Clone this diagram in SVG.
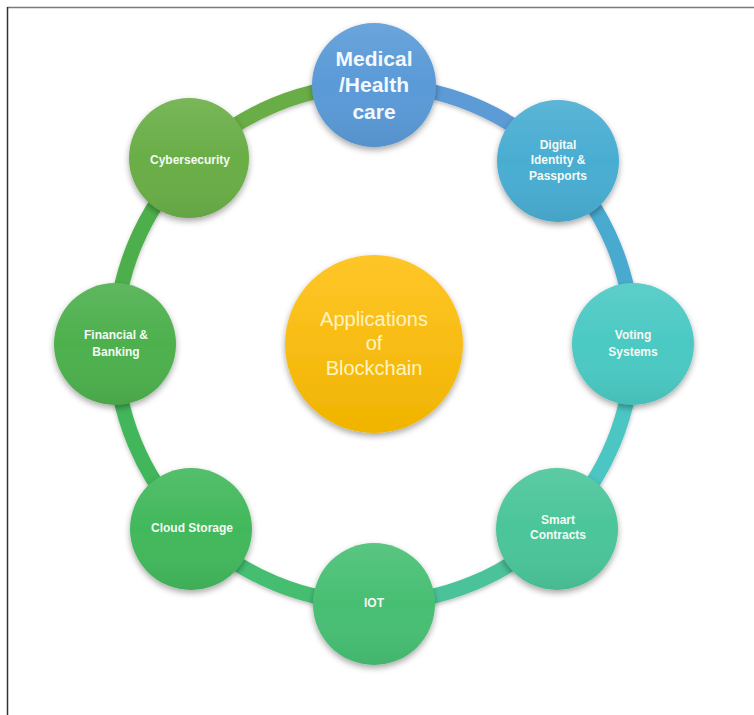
<svg xmlns="http://www.w3.org/2000/svg" width="754" height="715" viewBox="0 0 754 715">
<style>
.node-label{font-family:"Liberation Sans",Arial,sans-serif;font-weight:bold;font-size:12px;fill:#f4faf4;text-anchor:middle}
.big-label{font-family:"Liberation Sans",Arial,sans-serif;font-weight:bold;font-size:21px;fill:#f4f8ff;text-anchor:middle}
.center-label{font-family:"Liberation Sans",Arial,sans-serif;font-size:20px;fill:#fff3c4;text-anchor:middle}
.ring{fill:none;stroke-width:15;stroke-linecap:butt}
.shade{fill:url(#shade)}
</style>
<defs>
<filter id="sh" x="-30%" y="-30%" width="160%" height="170%">
<feDropShadow dx="0" dy="3" stdDeviation="3" flood-color="#000" flood-opacity="0.35"/>
</filter>
<filter id="shr" x="-10%" y="-10%" width="120%" height="120%">
<feDropShadow dx="0" dy="2" stdDeviation="2" flood-color="#000" flood-opacity="0.25"/>
</filter>
<linearGradient id="shade" x1="0" y1="0" x2="0" y2="1">
<stop offset="0" stop-color="#fff" stop-opacity="0.10"/>
<stop offset="0.5" stop-color="#fff" stop-opacity="0"/>
<stop offset="1" stop-color="#000" stop-opacity="0.06"/>
</linearGradient>
<linearGradient id="gold" x1="0" y1="0" x2="0" y2="1">
<stop offset="0" stop-color="#ffc629"/>
<stop offset="1" stop-color="#f0b400"/>
</linearGradient>
</defs>

<line x1="7" y1="7.5" x2="754" y2="7.5" stroke="#7a7a7a" stroke-width="1.5"/>
<line x1="7.5" y1="7" x2="7.5" y2="715" stroke="#333" stroke-width="1.5"/>

<g id="connectors" filter="url(#shr)">
<path class="ring" stroke="#5b9bd5" d="M374 85 A259 259 0 0 1 557.1 160.9"/>
<path class="ring" stroke="#4aaad0" d="M557.1 160.9 A259 259 0 0 1 633 344"/>
<path class="ring" stroke="#4bc6c2" d="M633 344 A259 259 0 0 1 557.1 527.1"/>
<path class="ring" stroke="#4bc39a" d="M557.1 527.1 A259 259 0 0 1 374 603"/>
<path class="ring" stroke="#45be72" d="M374 603 A259 259 0 0 1 190.9 527.1"/>
<path class="ring" stroke="#43b65a" d="M190.9 527.1 A259 259 0 0 1 115 344"/>
<path class="ring" stroke="#4daf4c" d="M115 344 A259 259 0 0 1 190.9 160.9"/>
<path class="ring" stroke="#68ad45" d="M190.9 160.9 A259 259 0 0 1 374 85"/>
</g>

<g id="center">
<circle cx="374" cy="344" r="89" fill="url(#gold)" filter="url(#sh)"/>
<text class="center-label" x="374" y="326">Applications</text>
<text class="center-label" x="374" y="350">of</text>
<text class="center-label" x="374" y="375">Blockchain</text>
</g>

<g id="medical">
<circle cx="374" cy="85" r="62" fill="#5a9ad7" filter="url(#sh)"/>
<circle class="shade" cx="374" cy="85" r="62"/>
<text class="big-label" x="374" y="66">Medical</text>
<text class="big-label" x="374" y="92">/Health</text>
<text class="big-label" x="374" y="119">care</text>
</g>

<g id="digital">
<circle cx="558" cy="161" r="61" fill="#4aadd2" filter="url(#sh)"/>
<circle class="shade" cx="558" cy="161" r="61"/>
<text class="node-label" x="558" y="149">Digital</text>
<text class="node-label" x="558" y="164">Identity &amp;</text>
<text class="node-label" x="558" y="180">Passports</text>
</g>

<g id="voting">
<circle cx="633" cy="344" r="61" fill="#4cc9c3" filter="url(#sh)"/>
<circle class="shade" cx="633" cy="344" r="61"/>
<text class="node-label" x="633" y="339">Voting</text>
<text class="node-label" x="633" y="356">Systems</text>
</g>

<g id="smart">
<circle cx="557" cy="529" r="61" fill="#4cc59a" filter="url(#sh)"/>
<circle class="shade" cx="557" cy="529" r="61"/>
<text class="node-label" x="558" y="524">Smart</text>
<text class="node-label" x="558" y="539">Contracts</text>
</g>

<g id="iot">
<circle cx="374" cy="604" r="61" fill="#46bf73" filter="url(#sh)"/>
<circle class="shade" cx="374" cy="604" r="61"/>
<text class="node-label" x="374" y="607">IOT</text>
</g>

<g id="cloud">
<circle cx="191" cy="529" r="61" fill="#43b85b" filter="url(#sh)"/>
<circle class="shade" cx="191" cy="529" r="61"/>
<text class="node-label" x="192" y="532">Cloud Storage</text>
</g>

<g id="financial">
<circle cx="115" cy="344" r="61" fill="#4db04d" filter="url(#sh)"/>
<circle class="shade" cx="115" cy="344" r="61"/>
<text class="node-label" x="116" y="339">Financial &amp;</text>
<text class="node-label" x="116" y="356">Banking</text>
</g>

<g id="cyber">
<circle cx="189" cy="158" r="60" fill="#6aae46" filter="url(#sh)"/>
<circle class="shade" cx="189" cy="158" r="60"/>
<text class="node-label" x="190" y="164">Cybersecurity</text>
</g>
</svg>
